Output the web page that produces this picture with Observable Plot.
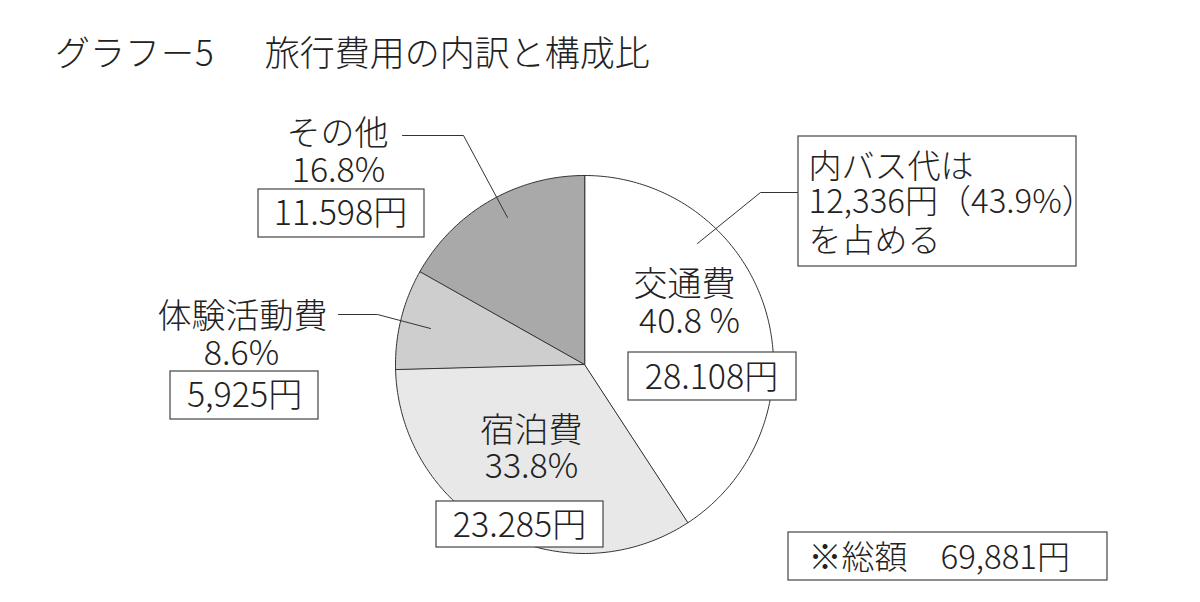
<!DOCTYPE html>
<html>
<head>
<meta charset="utf-8">
<script src="https://cdn.jsdelivr.net/npm/d3@7"></script>
<script src="https://cdn.jsdelivr.net/npm/@observablehq/plot@0.6"></script>
<style>
  html, body { margin: 0; padding: 0; background: #fff; }
  body { width: 1200px; height: 602px; overflow: hidden; font-family: "Noto Sans CJK JP", sans-serif; color: #222; }
  #title { height: 90px; box-sizing: border-box; padding: 31px 0 0 55px; font-size: 35px; line-height: 40px; white-space: pre; font-weight: 300; }
  #title .main { margin-left: 51px; }
  #chart svg { display: block; }
</style>
</head>
<body>
<div id="title"><span class="lead"></span><span class="main"></span></div>
<div id="chart"></div>
<script>
// ---- data ----
const titleLead = "グラフ－5";
const titleMain = "旅行費用の内訳と構成比";
const categories = ["交通費", "宿泊費", "体験活動費", "その他"];
const amounts = [28108, 23285, 5925, 11598];
const percentLabels = ["40.8 %", "33.8%", "8.6%", "16.8%"];
const amountLabels = ["28.108円", "23.285円", "5,925円", "11.598円"];
const busNote = ["内バス代は", "12,336円（43.9%）", "を占める"];
const totalLabel = "※総額　69,881円";

// ---- style / layout (image pixel space) ----
const colors = ["#ffffff", "#e8e8e8", "#cecece", "#a9a9a9"];
const W = 1200, H = 602, TOP = 90;
const CX = 584, CY = 364, R = 189;
const FS = 34;
const layout = {
  "交通費":   {name: [684, 285], pct: [689, 322], box: [628, 796, 352, 400], amt: [711, 378]},
  "宿泊費":   {name: [531, 431], pct: [531, 467], box: [436, 603, 501, 547], amt: [519, 526]},
  "体験活動費": {name: [242, 317], pct: [241, 354], box: [170, 318, 371, 419], amt: [244, 396]},
  "その他":   {name: [337, 134], pct: [338, 171], box: [258, 424, 189, 237], amt: [340, 214]}
};
const leaders = [
  [[402, 135], [463, 135], [507, 217]],
  [[338, 314], [377, 314], [430, 328]],
  [[798, 192], [760, 192], [697, 243]]
];
const busBox = [798, 1076, 136, 266];
const busLines = [[808, 167], [808, 202], [808, 241]];
const totalBox = [788, 1107, 532, 580];
const totalPos = [808, 558];

document.querySelector("#title .lead").textContent = titleLead;
document.querySelector("#title .main").textContent = titleMain;

// ---- pie geometry via d3.pie ----
const arcs = d3.pie().sort(null).value(d => d.value)(
  categories.map((c, i) => ({name: c, value: amounts[i], color: colors[i]}))
);
const slicePolys = arcs.map(a => {
  const pts = [{x: CX, y: CY}];
  const n = Math.max(8, Math.ceil((a.endAngle - a.startAngle) / (Math.PI / 180)));
  for (let k = 0; k <= n; k++) {
    const t = a.startAngle + (a.endAngle - a.startAngle) * k / n;
    pts.push({x: CX + R * Math.sin(t), y: CY - R * Math.cos(t)});
  }
  return {name: a.data.name, color: a.data.color, pts};
});

const boxRows = [];
const textRows = [];
categories.forEach((c, i) => {
  const L = layout[c];
  boxRows.push({x1: L.box[0], x2: L.box[1], y1: L.box[2], y2: L.box[3]});
  textRows.push({x: L.name[0], y: L.name[1], t: c});
  textRows.push({x: L.pct[0], y: L.pct[1], t: percentLabels[i]});
  textRows.push({x: L.amt[0], y: L.amt[1], t: amountLabels[i]});
});
boxRows.push({x1: busBox[0], x2: busBox[1], y1: busBox[2], y2: busBox[3]});
boxRows.push({x1: totalBox[0], x2: totalBox[1], y1: totalBox[2], y2: totalBox[3]});
const leftRows = busNote.map((t, i) => ({x: busLines[i][0], y: busLines[i][1], t}));
leftRows.push({x: totalPos[0], y: totalPos[1], t: totalLabel});

const marks = [];
slicePolys.forEach(s => {
  marks.push(Plot.line(s.pts, {x: "x", y: "y", curve: "linear-closed", fill: s.color, stroke: "#333", strokeWidth: 1}));
});
leaders.forEach(l => {
  marks.push(Plot.line(l.map(([x, y]) => ({x, y})), {x: "x", y: "y", stroke: "#333", strokeWidth: 1}));
});
marks.push(Plot.rect(boxRows, {x1: "x1", x2: "x2", y1: "y1", y2: "y2", fill: "white", stroke: "#444", strokeWidth: 1.2}));
marks.push(Plot.text(textRows, {x: "x", y: "y", text: "t", fontSize: FS, fontWeight: 300, textAnchor: "middle", lineAnchor: "middle", fill: "#222"}));
marks.push(Plot.text(leftRows, {x: "x", y: "y", text: "t", fontSize: FS - 1, fontWeight: 300, textAnchor: "start", lineAnchor: "middle", fill: "#222"}));

const chart = Plot.plot({
  width: W,
  height: H - TOP,
  margin: 0,
  x: {domain: [0, W], range: [0, W], axis: null},
  y: {domain: [H, TOP], axis: null},
  style: {fontFamily: "'Noto Sans CJK JP', sans-serif", background: "white", overflow: "visible"},
  marks
});
document.getElementById("chart").appendChild(chart);
</script>
</body>
</html>
